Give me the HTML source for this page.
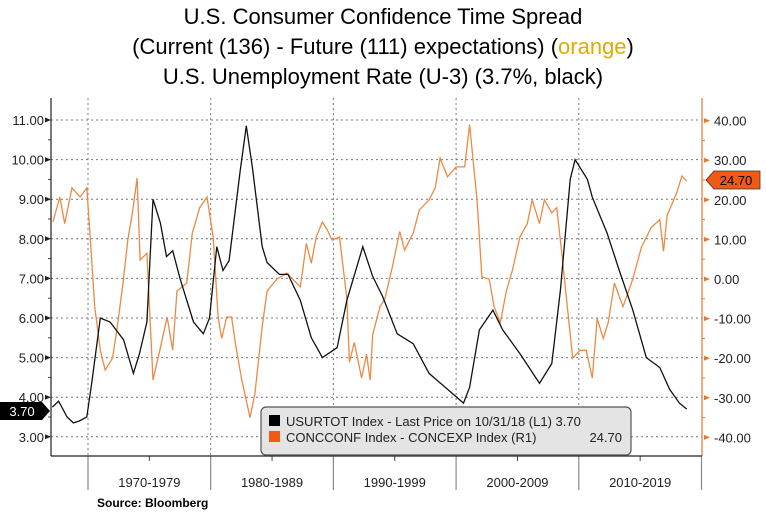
<!DOCTYPE html>
<html><head><meta charset="utf-8"><style>
html,body{margin:0;padding:0;background:#fff;}
body{width:766px;height:514px;overflow:hidden;font-family:"Liberation Sans",sans-serif;}
</style></head><body>
<svg id="chart" width="766" height="514" viewBox="0 0 766 514" xmlns="http://www.w3.org/2000/svg" font-family="Liberation Sans, sans-serif">
<g font-size="22" text-anchor="middle" fill="#000">
<text x="383" y="24">U.S. Consumer Confidence Time Spread</text>
<text x="383" y="54">(Current (136) - Future (111) expectations) (<tspan fill="#e0ab00">orange</tspan>)</text>
<text x="383" y="84">U.S. Unemployment Rate (U-3) (3.7%, black)</text>
</g>
<g id="grid"></g>
<g id="axes"></g>
<g id="series"></g>
<g>
<rect x="261" y="407" width="370" height="48" rx="5" fill="#e4e4e4" stroke="#555" stroke-width="1.2"/>
<rect x="269" y="415" width="11" height="11" fill="#000"/>
<text x="286" y="426" font-size="13" fill="#222">USURTOT Index - Last Price on 10/31/18 (L1) 3.70</text>
<rect x="269" y="431" width="11" height="11" fill="#f05a14"/>
<text x="286" y="442" font-size="13" fill="#222">CONCCONF Index - CONCEXP Index (R1)</text>
<text x="622" y="442" font-size="13" fill="#222" text-anchor="end">24.70</text>
</g>
<g>
<polygon points="0,402 42,402 50,411 42,420 0,420" fill="#000"/>
<text x="22" y="416" font-size="13" fill="#fff" text-anchor="middle">3.70</text>
</g>
<g>
<polygon points="714,171 760,171 760,189 714,189 706,180" fill="#f05a14" stroke="#333" stroke-width="0.8"/>
<text x="736" y="185" font-size="13" fill="#000" text-anchor="middle">24.70</text>
</g>
<text x="97" y="507" font-size="12" font-weight="bold" fill="#000">Source: Bloomberg</text>
</svg>
<script>
const leftTicks=[3,4,5,6,7,8,9,10,11];
const rightTicks=[-40,-30,-20,-10,0,10,20,30,40];
const decades=[1970,1980,1990,2000,2010,2020];
const decadeLabels=["1970-1979","1980-1989","1990-1999","2000-2009","2010-2019"];
const unempYears=[1967.1,1967.6,1968.3,1968.8,1969.3,1969.9,1970.3,1971.0,1971.8,1972.9,1973.7,1974.2,1974.8,1975.3,1975.9,1976.4,1976.9,1977.5,1978.6,1979.4,1979.9,1980.5,1981.0,1981.5,1982.4,1982.9,1983.4,1984.2,1984.6,1985.6,1986.3,1987.3,1988.2,1989.1,1990.3,1991.1,1992.4,1993.2,1994.0,1995.2,1996.5,1997.8,1999.3,2000.6,2001.1,2001.9,2003.0,2003.8,2005.2,2006.8,2007.8,2008.5,2009.3,2009.7,2010.7,2011.1,2012.3,2013.3,2014.4,2015.5,2016.6,2017.4,2018.2,2018.8];
const unempValues=[3.75,3.9,3.5,3.35,3.4,3.5,4.35,6.0,5.9,5.45,4.6,5.1,5.9,9.0,8.4,7.55,7.7,7.0,5.9,5.6,6.0,7.8,7.2,7.45,9.7,10.85,9.8,7.8,7.4,7.1,7.1,6.45,5.5,5.0,5.25,6.45,7.8,7.05,6.55,5.6,5.35,4.6,4.2,3.85,4.25,5.7,6.2,5.7,5.1,4.35,4.85,6.7,9.5,10.0,9.5,9.05,8.15,7.2,6.2,5.0,4.75,4.2,3.85,3.7];
const confYears=[1967.15,1967.7,1968.1,1968.7,1969.35,1969.9,1970.15,1970.55,1971.0,1971.4,1972.0,1972.35,1972.85,1973.25,1973.65,1974.0,1974.25,1974.8,1975.3,1975.85,1976.45,1976.9,1977.25,1978.05,1978.5,1979.1,1979.7,1980.2,1980.6,1980.9,1981.3,1981.7,1982.0,1982.5,1983.2,1983.6,1984.2,1984.6,1985.4,1986.2,1987.3,1987.8,1988.2,1988.6,1989.1,1989.5,1989.9,1990.5,1991.1,1991.3,1991.7,1992.3,1992.7,1993.0,1993.2,1993.8,1994.2,1994.8,1995.4,1995.8,1996.5,1997.0,1997.8,1998.3,1998.7,1999.3,2000.0,2000.7,2001.1,2001.7,2002.1,2002.7,2003.1,2003.6,2004.1,2004.6,2005.2,2005.8,2006.2,2006.8,2007.2,2007.8,2008.2,2008.6,2009.0,2009.5,2010.1,2010.6,2011.1,2011.5,2012.0,2012.4,2012.9,2013.6,2014.4,2015.1,2015.9,2016.6,2016.9,2017.2,2017.6,2018.0,2018.4,2018.8];
const confValues=[14.4,20.7,14,23,20.7,23,12,-7,-18,-23,-20,-13,-1,10,17.4,25.5,4.8,6.5,-25.5,-18,-9.6,-18,-3,-1,11.6,18,20.7,10.6,-9.6,-15,-9.6,-9.6,-16,-25,-35,-29,-12,-3,0,1.5,-2,9,4,10.6,14.4,12.4,9.8,10.6,-5,-21,-16,-25,-19,-25.5,-14,-7,-5,3,12,7.3,11.6,17.4,20,23,30.5,25.8,28.3,28.3,39,20,0.5,0,-7,-11,-3,2.3,10.6,14,20,14,20,16.7,18,7,-5,-20,-18,-18,-25,-10,-15,-11,-1,-7,0,8,13,15,7,16,19,22,26,24.7];

const NS="http://www.w3.org/2000/svg";
const X0=51,X1=702,YT=98,YB=456;
function xs(yr){return 88+(yr-1970)*12.27;}
function yl(v){return 120+(11-v)*39.6;}
function yr(v){return 279-v*3.96;}
function mk(tag,attrs,parent){const e=document.createElementNS(NS,tag);for(const k in attrs)e.setAttribute(k,attrs[k]);parent.appendChild(e);return e;}
const grid=document.getElementById('grid'),axes=document.getElementById('axes'),series=document.getElementById('series');
leftTicks.forEach(v=>{
  const l=mk('line',{x1:X0,x2:X1,y1:yl(v),y2:yl(v),stroke:'#777','stroke-dasharray':'2,3','stroke-width':1},grid);
  
  
  const t=mk('text',{x:X0-7,y:yl(v)+5,'font-size':13,'text-anchor':'end',fill:'#222'},axes);
  t.textContent=v.toFixed(2);
  
  
  mk('polygon',{points:`${X0},${yl(v)} ${X0-6},${yl(v)-2.5} ${X0-6},${yl(v)+2.5}`,fill:'#222'},axes);
  if(v<11) mk('line',{x1:X0-3,x2:X0,y1:yl(v+0.5),y2:yl(v+0.5),stroke:'#444'},axes);
});
rightTicks.forEach(v=>{
  const t=mk('text',{x:X1+12,y:yr(v)+5,'font-size':13,fill:'#222'},axes);
  t.textContent=v.toFixed(2);
  
  
  mk('polygon',{points:`${X1+8},${yr(v)} ${X1+2},${yr(v)-2.5} ${X1+2},${yr(v)+2.5}`,fill:'#e07a30'},axes);
  if(v<40) mk('line',{x1:X1,x2:X1+3,y1:yr(v+5),y2:yr(v+5),stroke:'#e07a30'},axes);
});
decades.forEach((d,i)=>{
  const x=xs(d);
  if(d<2020){const g=mk('line',{x1:x,x2:x,y1:YT,y2:YB,stroke:'#777','stroke-dasharray':'2,3'},grid);
  
  }
  mk('line',{x1:x,x2:x,y1:YB,y2:490,stroke:'#888','stroke-width':1.2},axes);
  if(i<decadeLabels.length){
    const t=mk('text',{x:xs(d+5),y:487,'font-size':13,'text-anchor':'middle',fill:'#222'},axes);
    t.textContent=decadeLabels[i];
    
    
    mk('line',{x1:xs(d+5),x2:xs(d+5),y1:YB,y2:YB+5,stroke:'#444'},axes);
  }
});
mk('line',{x1:X0,x2:X0,y1:YT,y2:YB,stroke:'#222','stroke-width':1.2},axes);
mk('line',{x1:X1,x2:X1,y1:YT,y2:YB,stroke:'#e07a30','stroke-width':1.2},axes);
mk('line',{x1:X0,x2:X1,y1:YB,y2:YB,stroke:'#222','stroke-width':1.2},axes);
const op=mk('polyline',{points:confYears.map((y,i)=>xs(y).toFixed(1)+','+yr(confValues[i]).toFixed(1)).join(' '),fill:'none',stroke:'#eb8a45','stroke-width':1.3},series);


const bp=mk('polyline',{points:unempYears.map((y,i)=>xs(y).toFixed(1)+','+yl(unempValues[i]).toFixed(1)).join(' '),fill:'none',stroke:'#111','stroke-width':1.3},series);


</script>
</body></html>
